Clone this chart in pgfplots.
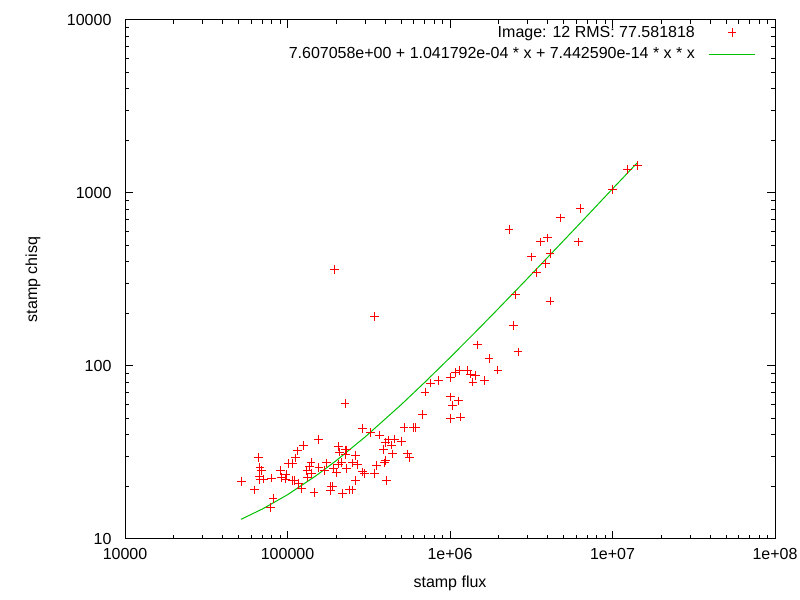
\documentclass[border=0pt]{standalone}
\usepackage{fontspec}
\setmainfont{Liberation Sans}
\usepackage{pgfplots}
\usepackage{pgfplotstable}
\pgfplotsset{compat=1.18}
\definecolor{gpred}{RGB}{255,0,0}
\definecolor{gpgreen}{RGB}{0,192,0}
\pgfplotstableread{
x y
51960 21.55
62480 19.2
66100 29.7
67720 25.97
69370 24.8
67060 22.9
67720 22.1
70970 22.2
79500 22.5
81440 17.2
78390 15.2
90300 24.8
92110 22.6
97900 23.5
97480 22.2
100700 27.4
107000 27.4
106600 21.9
110100 21.9
112300 29.4
114900 32.3
116600 21.0
121600 19.5
125100 34.8
131800 24.8
133100 22.8
136200 26.4
139500 27.6
140100 24.0
145600 18.6
154700 37.7
156200 25.97
169400 25.0
173300 27.5
185200 20.2
183400 19.0
188700 20.2
191300 25.7
199700 24.2
205400 34.3
209500 31.8
205400 27.1
215600 27.6
217400 18.4
225900 60.9
225900 32.7
231400 32.7
228100 30.6
231400 25.6
240100 19.2
249400 19.2
250500 27.5
261400 30.5
270400 27.0
261400 21.9
288600 43.6
288600 24.4
296900 23.8
323200 41.2
342100 24.0
352000 26.7
367300 39.9
388600 33.0
394200 27.5
399800 28.4
405500 21.9
402100 36.0
417200 37.4
437700 34.9
441500 31.0
454200 37.8
501600 36.7
521200 44.2
546100 31.0
561800 29.7
597800 44.0
611600 44.0
14210000 1446
12330000 1371
10030000 1050.5
6310000 815.5
4773000 717.1
2307000 617.0
3993000 549.5
3595000 521.0
6160000 521.0
3165000 426.7
4125000 445.8
3859000 392.4
3397000 348.0
2522000 257.3
4125000 237.5
2452000 171.0
2621000 120.5
1472000 132.3
1738000 110.8
1974000 94.8
1626000 82.2
1385000 80.8
1278000 93.9
1431000 88.4
1341000 89.9
1136000 93.9
1084000 91.5
1004000 86.0
847200 82.2
756500 79.7
701800 70.7
1004000 66.2
1125000 62.8
1033000 59.3
1157000 50.7
1004000 49.6
679200 52.6
194100 362.2
342100 192.8
}\pointdata
\pgfplotstableread{
x y
51700 12.993
70000 14.900
100000 18.026
150000 23.236
200000 28.446
300000 38.868
500000 59.715
700000 80.569
1000000 111.861
1500000 164.043
2000000 216.263
3000000 320.815
5000000 530.364
7000000 740.508
10000000 1056.842
14150000 1489.8
}\fitdata
\begin{document}
\fontsize{12}{14.4}\selectfont
\begin{tikzpicture}
\path[use as bounding box] (0,0) rectangle (600pt,450pt);
\begin{axis}[
  at={(93.75pt,45.75pt)}, anchor=south west,
  scale only axis, width=487.5pt, height=389.25pt,
  xmode=log, ymode=log,
  xmin=1e4, xmax=1e8, ymin=10, ymax=1e4,
  xtick={1e4,1e5,1e6,1e7,1e8},
  xticklabels={10000,100000,1e+06,1e+07,1e+08},
  ytick={10,100,1000,10000},
  yticklabels={10,100,1000,10000},
  minor xtick={2e4,3e4,4e4,5e4,6e4,7e4,8e4,9e4,2e5,3e5,4e5,5e5,6e5,7e5,8e5,9e5,2e6,3e6,4e6,5e6,6e6,7e6,8e6,9e6,2e7,3e7,4e7,5e7,6e7,7e7,8e7,9e7},
  minor ytick={20,30,40,50,60,70,80,90,200,300,400,500,600,700,800,900,2000,3000,4000,5000,6000,7000,8000,9000},
  tick align=inside,
  major tick length=6pt, minor tick length=3pt,
  axis line style={line width=0.75pt},
  every tick/.style={black, line width=0.75pt},
  /pgf/number format/assume math mode=true,
  ticklabel style={font=\fontsize{12}{14.4}\selectfont},
  xticklabel style={yshift=-3pt},
  yticklabel style={xshift=-6pt},
  xlabel={stamp flux}, ylabel={stamp chisq},
  xlabel style={at={(axis description cs:0.5,-0.0848)}, anchor=center},
  ylabel style={at={(axis description cs:-0.1415,0.5)}, anchor=center},
  legend cell align=right,
  legend plot pos=right,
  legend style={at={(0.971,0.994)}, anchor=north east, draw=none, fill=none,
    inner sep=0pt, row sep=2pt, column sep=8pt,
    font=\fontsize{12}{14.4}\selectfont},
]
\addplot[only marks, mark=+, mark size=3.3pt, color=gpred, line width=0.75pt,
  legend image code/.code={\draw[gpred, line width=0.75pt] plot[mark=+, mark size=3.3pt] coordinates {(17.5pt,0pt)};}]
  table[x=x, y=y] {\pointdata};
\addlegendentry{Image: 12 RMS: 77.581818}
\addplot[no marks, color=gpgreen, line width=0.75pt,
  legend image code/.code={\draw[gpgreen, line width=0.75pt] (0pt,0pt) -- (35pt,0pt);}]
  table[x=x, y=y] {\fitdata};
\addlegendentry{7.607058e+00 + 1.041792e-04 * x + 7.442590e-14 * x * x}
\end{axis}
\end{tikzpicture}
\end{document}
